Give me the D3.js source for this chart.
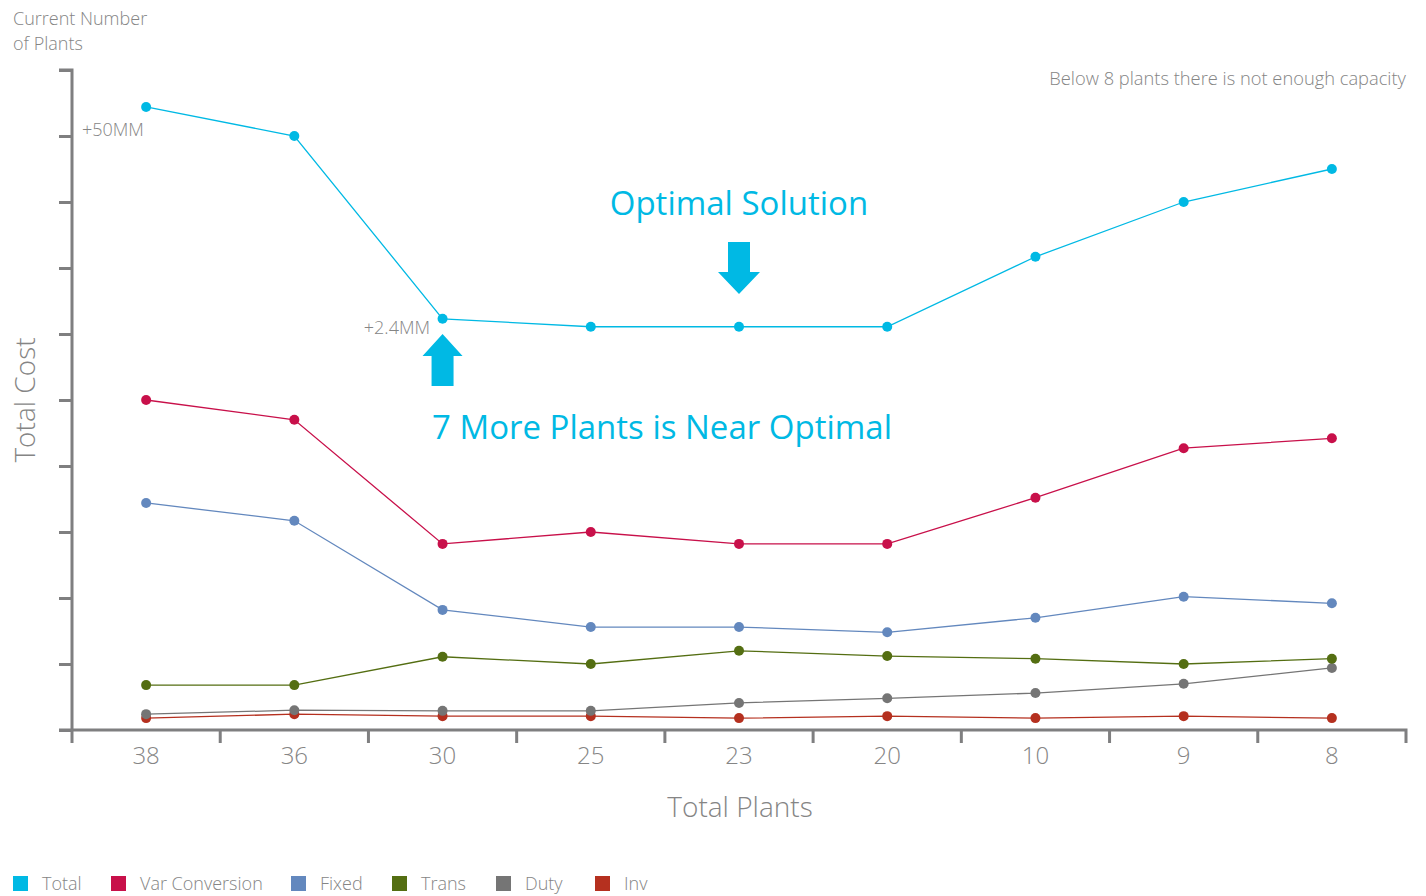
<!DOCTYPE html>
<html><head><meta charset="utf-8">
<script src="https://cdn.jsdelivr.net/npm/d3@7"></script>
<style>
html,body{margin:0;padding:0;background:#fff;}
svg{display:block;font-family:"Open Sans",sans-serif;}
</style></head>
<body><svg id="c" width="1426" height="896"></svg>
<script>
const categories = ["38","36","30","25","23","20","10","9","8"];
const totalVals   = [9.44, 9.00, 6.23, 6.11, 6.11, 6.11, 7.17, 8.00, 8.50];
const varConvVals = [5.00, 4.70, 2.82, 3.00, 2.82, 2.82, 3.52, 4.27, 4.42];
const fixedVals   = [3.44, 3.17, 1.82, 1.56, 1.56, 1.48, 1.70, 2.02, 1.92];
const transVals   = [0.68, 0.68, 1.11, 1.00, 1.20, 1.12, 1.08, 1.00, 1.08];
const dutyVals    = [0.24, 0.30, 0.29, 0.29, 0.41, 0.48, 0.56, 0.70, 0.94];
const invVals     = [0.18, 0.24, 0.21, 0.21, 0.18, 0.21, 0.18, 0.21, 0.18];
const seriesNames = ["Total","Var Conversion","Fixed","Trans","Duty","Inv"];
const seriesColors = ["#00b9e4","#c8104a","#6388be","#546e12","#757575","#b5301f"];
const yTicks = [0,1,2,3,4,5,6,7,8,9,10];

const series = [totalVals,varConvVals,fixedVals,transVals,dutyVals,invVals]
  .map((v,i)=>({name:seriesNames[i],color:seriesColors[i],values:v}));

const svg = d3.select("#c");
const axisColor = "#7f7f80", textColor = "#858585", cyan = "#00b9e4";

const x = d3.scaleBand().domain(categories).range([72,1406]).padding(0);
const cx = d => x(d) + x.bandwidth()/2;
const y = d3.scaleLinear().domain([0,10]).range([730,70]);

// y axis
const ya = svg.append("g").attr("transform","translate(72,0)")
  .call(d3.axisLeft(y).tickValues(yTicks).tickSize(13).tickFormat(""));
ya.select(".domain").attr("stroke",axisColor).attr("stroke-width",3).attr("d","M-13,70H0V730");
ya.selectAll(".tick line").attr("stroke",axisColor).attr("stroke-width",3);

// x axis
const xa = svg.append("g").attr("transform","translate(0,730)")
  .call(d3.axisBottom(x).tickSize(0).tickPadding(17));
xa.select(".domain").attr("stroke",axisColor).attr("stroke-width",3).attr("d","M59,0H1406V13");
xa.selectAll(".tick text").attr("fill",textColor).attr("font-size",24).attr("font-weight",300)
  .attr("font-family","'Open Sans',sans-serif");
const bounds = categories.map(c=>x(c));
svg.append("g").selectAll("line").data(bounds).join("line")
  .attr("x1",d=>d).attr("x2",d=>d).attr("y1",730).attr("y2",743)
  .attr("stroke",axisColor).attr("stroke-width",3);

// lines
const line = d3.line().x((d,i)=>cx(categories[i])).y(d=>y(d));
const g = svg.append("g");
series.slice().reverse().forEach(s=>{
  g.append("path").datum(s.values).attr("d",line).attr("fill","none")
    .attr("stroke",s.color).attr("stroke-width",1.3);
  g.append("g").selectAll("circle").data(s.values).join("circle")
    .attr("cx",(d,i)=>cx(categories[i])).attr("cy",d=>y(d)).attr("r",5)
    .attr("fill",s.color);
});

// titles
svg.append("text").attr("x",13).attr("y",25).attr("fill",textColor).attr("font-size",18).attr("font-weight",300).text("Current Number");
svg.append("text").attr("x",13).attr("y",50).attr("fill",textColor).attr("font-size",18).attr("font-weight",300).text("of Plants");
svg.append("text").attr("transform","translate(35,400) rotate(-90)").attr("text-anchor","middle")
  .attr("fill",textColor).attr("font-size",28).attr("font-weight",300).text("Total Cost");
svg.append("text").attr("x",740).attr("y",817).attr("text-anchor","middle")
  .attr("fill",textColor).attr("font-size",28).attr("font-weight",300).text("Total Plants");
svg.append("text").attr("x",1406).attr("y",85).attr("text-anchor","end")
  .attr("fill",textColor).attr("font-size",18.3).attr("font-weight",300).text("Below 8 plants there is not enough capacity");

// annotations
svg.append("text").attr("x",82).attr("y",136).attr("fill",textColor).attr("font-size",18).attr("font-weight",300).text("+50MM");
svg.append("text").attr("x",430).attr("y",334).attr("text-anchor","end").attr("fill",textColor).attr("font-size",18).attr("font-weight",300).text("+2.4MM");
svg.append("text").attr("x",739).attr("y",215).attr("text-anchor","middle").attr("fill",cyan).attr("font-size",33).attr("font-weight",400).text("Optimal Solution");
svg.append("text").attr("x",662).attr("y",439).attr("text-anchor","middle").attr("fill",cyan).attr("font-size",33).attr("font-weight",400).text("7 More Plants is Near Optimal");

// arrows
const ux = cx("30"), dx = cx("23");
svg.append("path").attr("fill",cyan)
  .attr("d",`M${ux},334 L${ux+20},356 L${ux+11},356 L${ux+11},386 L${ux-11},386 L${ux-11},356 L${ux-20},356 Z`);
svg.append("path").attr("fill",cyan)
  .attr("d",`M${dx-11},242 L${dx+11},242 L${dx+11},272 L${dx+21},272 L${dx},294 L${dx-21},272 L${dx-11},272 Z`);

// legend
const legendX = [13,111,291,392,496,595];
const lg = svg.append("g");
series.forEach((s,i)=>{
  lg.append("rect").attr("x",legendX[i]).attr("y",876).attr("width",15).attr("height",15).attr("fill",s.color);
  lg.append("text").attr("x",legendX[i]+29).attr("y",890).attr("fill",textColor).attr("font-size",18).attr("font-weight",300).text(s.name);
});
</script></body></html>
